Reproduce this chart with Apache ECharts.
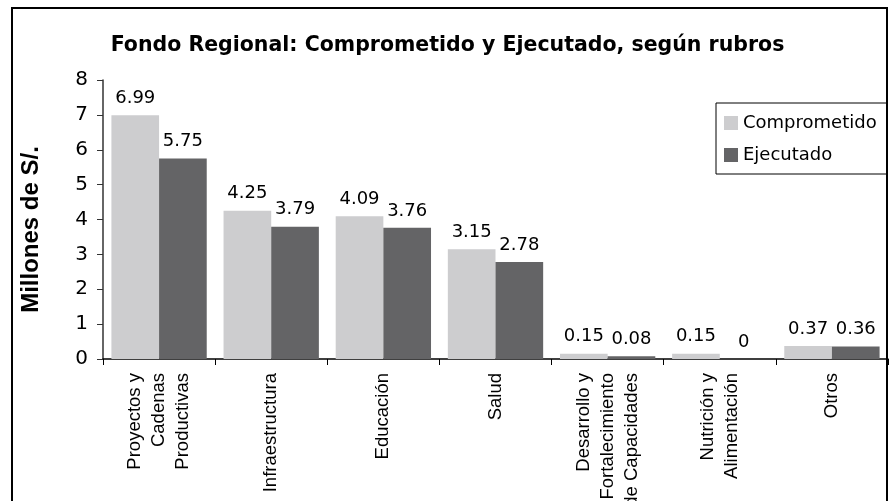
<!DOCTYPE html>
<html>
<head>
<meta charset="utf-8">
<script src="https://cdn.jsdelivr.net/npm/echarts@6/dist/echarts.min.js"></script>
<style>
  html, body { margin: 0; padding: 0; background: #fff; }
  #chart { width: 895px; height: 501px; }
</style>
</head>
<body>
<div id="chart"></div>
<script>
// rubros
const categories = [
  'Proyectos y\nCadenas\nProductivas',
  'Infraestructura',
  'Educación',
  'Salud',
  'Desarrollo y\nFortalecimiento\nde Capacidades',
  'Nutrición y\nAlimentación',
  'Otros'
];
const comprometido = [6.99, 4.25, 4.09, 3.15, 0.15, 0.15, 0.37];
const ejecutado = [5.75, 3.79, 3.76, 2.78, 0.08, 0, 0.36];
const yTicks = [0, 1, 2, 3, 4, 5, 6, 7, 8];

// the original text looks wider than Arial, DejaVu fits better horizontally
const wideFont = '"DejaVu Sans", "Liberation Sans", sans-serif';
const armFont = '"Liberation Sans", Arial, sans-serif';

const myChart = echarts.init(document.getElementById('chart'));
const option = {
  animation: false,
  textStyle: { fontFamily: wideFont },
  title: {
    text: 'Fondo Regional: Comprometido y Ejecutado, según rubros',
    left: 'center',
    top: 30,
    textStyle: { fontSize: 20.5, fontWeight: 'bold', color: '#000', fontFamily: wideFont }
  },
  legend: {
    orient: 'vertical',
    left: 716,
    top: 103,
    itemWidth: 14,
    itemHeight: 14,
    itemGap: 14,
    padding: [11, 10, 10, 8],
    borderColor: '#000',
    borderWidth: 1,
    icon: 'rect',
    textStyle: { fontSize: 18, color: '#000', fontFamily: wideFont },
    data: ['Comprometido', 'Ejecutado']
  },
  grid: { left: 103, right: 7, top: 80, bottom: 142, outerBoundsMode: 'none' },
  xAxis: {
    type: 'category',
    data: categories,
    axisLine: { lineStyle: { color: '#000', width: 1.5 } },
    axisTick: { show: true, length: 6, lineStyle: { color: '#000' } },
    axisLabel: {
      rotate: 90,
      interval: 0,
      margin: 14,
      fontSize: 18.5,
      lineHeight: 24,
      color: '#000',
      fontFamily: armFont
    }
  },
  yAxis: {
    type: 'value',
    min: yTicks[0],
    max: yTicks[yTicks.length - 1],
    interval: 1,
    name: 'Millones de S/.',
    nameLocation: 'middle',
    nameGap: 60,
    nameTextStyle: { fontSize: 24, fontWeight: 'bold', color: '#000', fontFamily: armFont, padding: [0, 20, 0, 0] },
    axisLine: { show: true, lineStyle: { color: '#333', width: 1.5 } },
    axisTick: { show: true, length: 6, lineStyle: { color: '#333' } },
    splitLine: { show: false },
    axisLabel: { fontSize: 20, color: '#000', margin: 15, fontFamily: wideFont }
  },
  series: [
    {
      name: 'Comprometido',
      type: 'bar',
      data: comprometido,
      barGap: '0%',
      barCategoryGap: '15%',
      itemStyle: { color: '#cdcdcf' },
      label: { show: true, position: 'top', distance: 8, fontSize: 18, color: '#000', fontFamily: wideFont }
    },
    {
      name: 'Ejecutado',
      type: 'bar',
      data: ejecutado,
      itemStyle: { color: '#646466' },
      label: { show: true, position: 'top', distance: 8, fontSize: 18, color: '#000', fontFamily: wideFont }
    }
  ],
  graphic: [
    {
      type: 'rect',
      shape: { x: 12, y: 8, width: 875, height: 540 },
      style: { fill: 'none', stroke: '#000', lineWidth: 2 },
      silent: true,
      z: 100
    }
  ]
};
myChart.setOption(option);
window.addEventListener('resize', myChart.resize);
</script>
</body>
</html>
